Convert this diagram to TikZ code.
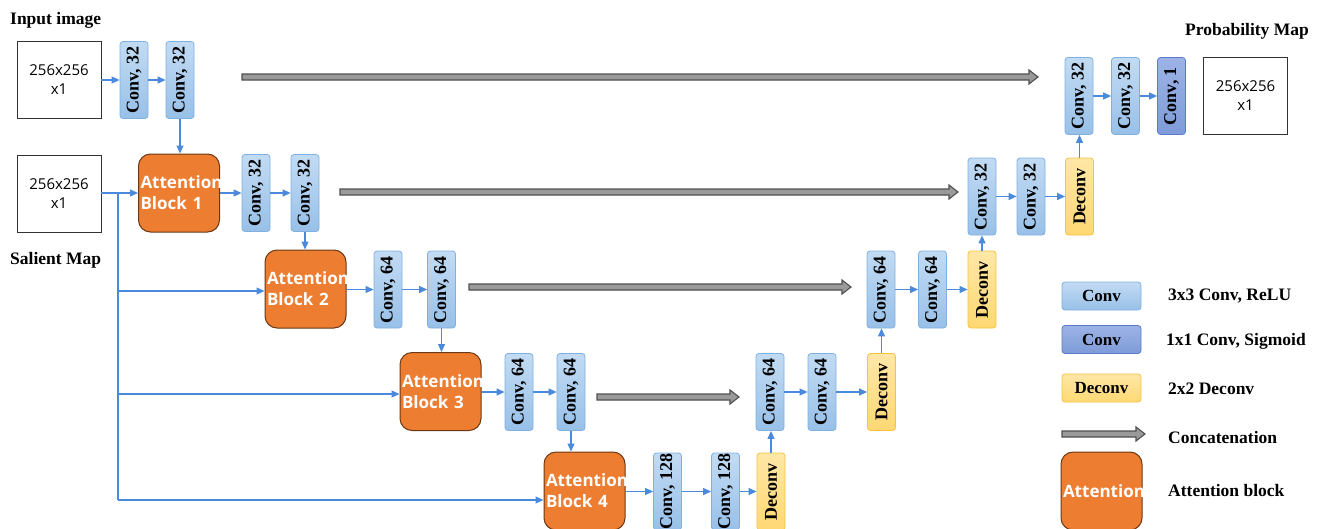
\documentclass[tikz,border=0pt]{standalone}
\usepackage{fontspec}
\setmainfont{Liberation Serif}
\newfontfamily\sansnum{Open Sans}
\usetikzlibrary{arrows.meta,calc}
\definecolor{convline}{HTML}{7FB0E0}
\definecolor{convtop}{HTML}{C2DBF3}
\definecolor{convbot}{HTML}{98C0E8}
\definecolor{darkline}{HTML}{5A7CC8}
\definecolor{darktop}{HTML}{9DB3E6}
\definecolor{darkbot}{HTML}{7E9BD8}
\definecolor{decline}{HTML}{F5C342}
\definecolor{dectop}{HTML}{FFE7A6}
\definecolor{decbot}{HTML}{FFD873}
\definecolor{attfill}{HTML}{ED7D31}
\definecolor{attline}{HTML}{6B3814}
\definecolor{arrowblue}{HTML}{4A89DC}
\definecolor{catfill}{HTML}{9A9A9A}
\definecolor{catline}{HTML}{505050}
\tikzset{
  blockbase/.style={rounded corners=3pt, minimum width=28pt, minimum height=77pt, inner sep=0pt, line width=0.8pt, font=\bfseries\fontsize{18}{18}\selectfont},
  convbox/.style={blockbase, draw=convline, top color=convtop, bottom color=convbot},
  darkbox/.style={blockbase, draw=darkline, top color=darktop, bottom color=darkbot},
  decbox/.style={blockbase, draw=decline, top color=dectop, bottom color=decbot},
  attbox/.style={draw=attline, fill=attfill, rounded corners=12pt, line width=1pt, minimum width=81pt, minimum height=78pt, inner xsep=2pt, text width=77pt, align=left, text=white, font=\sansnum\bfseries\fontsize{17}{21}\selectfont},
  imgbox/.style={draw=black!80, line width=0.8pt, minimum width=84pt, minimum height=77pt, align=center, font=\sansnum\fontsize{15}{19}\selectfont},
  lbl/.style={anchor=west, inner sep=0pt, font=\bfseries\fontsize{17.5}{17.5}\selectfont},
  flow/.style={draw=arrowblue, line width=1.1pt, -{Triangle[length=8pt,width=7pt]}},
  flowline/.style={draw=arrowblue, line width=1.1pt},
  catstyle/.style={fill=catfill, draw=catline, line width=1.1pt, line join=miter},
  legbox/.style={rounded corners=3pt, minimum width=79pt, minimum height=28pt, inner sep=0pt, line width=0.8pt, font=\bfseries\fontsize{17}{17}\selectfont},
}
\newcommand\concatarrow[2]{\filldraw[catstyle] ($(#1)+(0,-3)$) -- ($(#2)+(-9,-3)$) -- ($(#2)+(-9,-7)$) -- (#2) -- ($(#2)+(-9,7)$) -- ($(#2)+(-9,3)$) -- ($(#1)+(0,3)$) -- cycle;}
\newcommand\vlab[1]{\rotatebox{90}{#1}}
\begin{document}
\begin{tikzpicture}[x=1pt,y=-1pt]
\useasboundingbox (0,0) rectangle (1322,528);
\clip (0,0) rectangle (1322,528);
% texts
\node[lbl] (tin) at (10,20) {Input image};
\node[lbl] (tsal) at (10,260) {Salient Map};
\node[lbl] (tprob) at (1185,31) {Probability Map};
% image boxes
\node[imgbox] (in1) at (59,79.5) {256x256\\x1};
\node[imgbox] (in2) at (59,193.5) {256x256\\x1};
\node[imgbox] (out) at (1245.5,96) {256x256\\x1};
% encoder
\node[convbox] (A1) at (134,80) {\vlab{Conv, 32}};
\node[convbox] (A2) at (180,80) {\vlab{Conv, 32}};
\node[attbox] (AB1) at (179,193) {Attention\\Block 1};
\node[convbox] (B1) at (256,193) {\vlab{Conv, 32}};
\node[convbox] (B2) at (305,193) {\vlab{Conv, 32}};
\node[attbox] (AB2) at (305.5,289) {Attention\\Block 2};
\node[convbox] (C1) at (388,289.5) {\vlab{Conv, 64}};
\node[convbox] (C2) at (441.5,289.5) {\vlab{Conv, 64}};
\node[attbox] (AB3) at (440.5,391.5) {Attention\\Block 3};
\node[convbox] (D1) at (519,392) {\vlab{Conv, 64}};
\node[convbox] (D2) at (571,392) {\vlab{Conv, 64}};
\node[attbox] (AB4) at (584.5,491) {Attention\\Block 4};
\node[convbox] (E1) at (667.5,491.5) {\vlab{Conv, 128}};
\node[convbox] (E2) at (725.5,491.5) {\vlab{Conv, 128}};
\node[decbox] (E3) at (771,491.5) {\vlab{Deconv}};
% decoder
\node[convbox] (F1) at (770,392) {\vlab{Conv, 64}};
\node[convbox] (F2) at (822,392) {\vlab{Conv, 64}};
\node[decbox] (F3) at (881.5,392) {\vlab{Deconv}};
\node[convbox] (G1) at (881,289.5) {\vlab{Conv, 64}};
\node[convbox] (G2) at (932.5,289.5) {\vlab{Conv, 64}};
\node[decbox] (G3) at (982,289.5) {\vlab{Deconv}};
\node[convbox] (H1) at (982,196.5) {\vlab{Conv, 32}};
\node[convbox] (H2) at (1031,196.5) {\vlab{Conv, 32}};
\node[decbox] (H3) at (1079.5,196.5) {\vlab{Deconv}};
\node[convbox] (I1) at (1079,96) {\vlab{Conv, 32}};
\node[convbox] (I2) at (1125.5,96) {\vlab{Conv, 32}};
\node[darkbox] (I3) at (1171.5,96) {\vlab{Conv, 1}};
% horizontal flows
\draw[flow] (in1.east |- A1) -- (A1.west);
\draw[flow] (A1) -- (A2);
\draw[flow] (AB1.east |- B1) -- (B1.west);
\draw[flow] (B1) -- (B2);
\draw[flow] (AB2.east |- C1) -- (C1.west);
\draw[flow] (C1) -- (C2);
\draw[flow] (AB3.east |- D1) -- (D1.west);
\draw[flow] (D1) -- (D2);
\draw[flow] (AB4.east |- E1) -- (E1.west);
\draw[flow] (E1) -- (E2);
\draw[flow] (E2) -- (E3);
\draw[flow] (F1) -- (F2);
\draw[flow] (F2) -- (F3);
\draw[flow] (G1) -- (G2);
\draw[flow] (G2) -- (G3);
\draw[flow] (H1) -- (H2);
\draw[flow] (H2) -- (H3);
\draw[flow] (I1) -- (I2);
\draw[flow] (I2) -- (I3);
% vertical flows
\draw[flow] (A2.south) -- (A2.south |- AB1.north);
\draw[flow] (B2.south) -- (B2.south |- AB2.north);
\draw[flow] (C2.south) -- (C2.south |- AB3.north);
\draw[flow] (D2.south) -- (D2.south |- AB4.north);
\draw[flow] (E3.north) -- (E3.north |- F1.south);
\draw[flow] (F3.north) -- (F3.north |- G1.south);
\draw[flow] (G3.north) -- (G3.north |- H1.south);
\draw[flow] (H3.north) -- (H3.north |- I1.south);
% salient map branches
\coordinate (j1) at (118,193);
\coordinate (j2) at (118,291);
\coordinate (j3) at (118,394);
\coordinate (j4) at (118,500);
\draw[flow] (in2.east |- AB1) -- (AB1.west);
\draw[flowline] (j1) -- (j4);
\draw[flow] (j2) -- (j2 -| AB2.west);
\draw[flow] (j3) -- (j3 -| AB3.west);
\draw[flow] (j4) -- (j4 -| AB4.west);
% concatenations
\coordinate (c0s) at (242,77);  \coordinate (c0e) at (1038,77);
\coordinate (c1s) at (340,192); \coordinate (c1e) at (958,192);
\coordinate (c2s) at (469,287); \coordinate (c2e) at (851,287);
\coordinate (c3s) at (597,397); \coordinate (c3e) at (739,397);
\concatarrow{c0s}{c0e}
\concatarrow{c1s}{c1e}
\concatarrow{c2s}{c2e}
\concatarrow{c3s}{c3e}
% legend
\node[legbox, draw=convline, top color=convtop, bottom color=convbot] (L1) at (1101.5,296) {Conv};
\node[lbl] (L1t) at (1168,296) {3x3 Conv, ReLU};
\node[legbox, draw=darkline, top color=darktop, bottom color=darkbot] (L2) at (1101.5,339.5) {Conv};
\node[lbl] (L2t) at (1166,341) {1x1 Conv, Sigmoid};
\node[legbox, draw=decline, top color=dectop, bottom color=decbot] (L3) at (1101.5,388) {Deconv};
\node[lbl] (L3t) at (1168,389) {2x2 Deconv};
\coordinate (cls) at (1062,434); \coordinate (cle) at (1145,434);
\concatarrow{cls}{cle}
\node[lbl] (L4t) at (1168,438) {Concatenation};
\node[attbox, align=center] (L5) at (1101.5,491) {Attention};
\node[lbl] (L5t) at (1168,491) {Attention block};
\end{tikzpicture}
\end{document}
